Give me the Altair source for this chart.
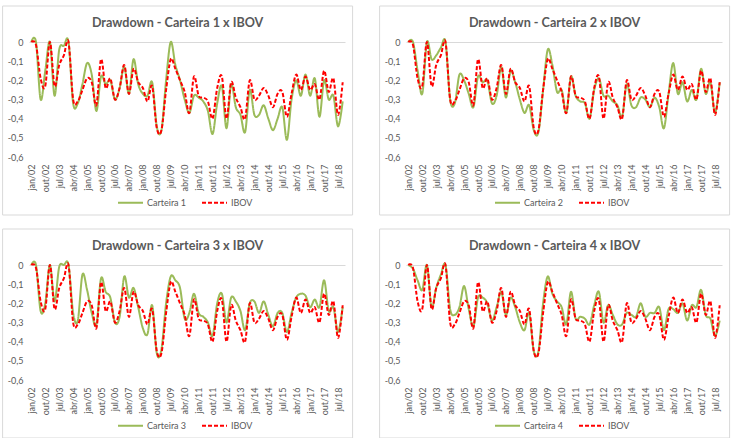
import altair as alt
import pandas as pd

meses = ["jan", "abr", "jul", "out"]
anos = list(range(2002, 2019))
trimestres = [f"{m}/{str(a)[2:]}" for a in anos for m in meses]
rotulos_x = trimestres[::3]
y_ticks = [0, -0.1, -0.2, -0.3, -0.4, -0.5, -0.6]

ibov = [0, -0.015, -0.19, -0.23, 0, -0.23, -0.12, -0.07, 0, -0.3,
        -0.31, -0.25, -0.19, -0.21, -0.33, -0.09, -0.24, -0.19, -0.3, -0.24,
        -0.12, -0.27, -0.14, -0.21, -0.24, -0.31, -0.23, -0.45, -0.46, -0.25,
        -0.09, -0.14, -0.2, -0.26, -0.37, -0.18, -0.28, -0.29, -0.31, -0.4,
        -0.24, -0.18, -0.4, -0.21, -0.29, -0.34, -0.4, -0.2, -0.3, -0.28,
        -0.24, -0.28, -0.34, -0.27, -0.26, -0.39, -0.27, -0.17, -0.25, -0.18,
        -0.25, -0.22, -0.3, -0.15, -0.26, -0.19, -0.38, -0.21]

carteira1 = [0, 0, -0.3, -0.15, 0, -0.28, -0.04, -0.02, 0, -0.32,
             -0.32, -0.22, -0.11, -0.17, -0.36, -0.18, -0.22, -0.2, -0.3, -0.24,
             -0.13, -0.27, -0.09, -0.22, -0.27, -0.28, -0.21, -0.44, -0.46, -0.2,
             0, -0.12, -0.2, -0.3, -0.37, -0.28, -0.29, -0.31, -0.36, -0.48,
             -0.32, -0.23, -0.45, -0.22, -0.34, -0.38, -0.47, -0.25, -0.38, -0.38,
             -0.33, -0.4, -0.46, -0.4, -0.34, -0.51, -0.3, -0.2, -0.28, -0.17,
             -0.28, -0.19, -0.39, -0.2, -0.3, -0.28, -0.44, -0.31]

carteira2 = [0, 0, -0.15, -0.27, 0, -0.09, -0.07, -0.03, 0, -0.3,
             -0.32, -0.17, -0.2, -0.27, -0.34, -0.18, -0.21, -0.2, -0.32, -0.28,
             -0.13, -0.29, -0.15, -0.21, -0.3, -0.37, -0.33, -0.46, -0.47, -0.25,
             -0.04, -0.12, -0.26, -0.25, -0.37, -0.18, -0.28, -0.31, -0.32, -0.4,
             -0.25, -0.19, -0.28, -0.28, -0.31, -0.33, -0.39, -0.22, -0.33, -0.34,
             -0.29, -0.3, -0.34, -0.29, -0.34, -0.45, -0.27, -0.11, -0.27, -0.21,
             -0.31, -0.25, -0.3, -0.14, -0.27, -0.21, -0.37, -0.21]

carteira3 = [0, 0, -0.24, -0.2, 0, -0.19, -0.01, 0, 0, -0.25,
             -0.29, -0.05, -0.13, -0.25, -0.31, -0.07, -0.14, -0.17, -0.3, -0.27,
             -0.06, -0.17, -0.12, -0.22, -0.33, -0.36, -0.21, -0.46, -0.44, -0.2,
             -0.06, -0.08, -0.12, -0.28, -0.25, -0.15, -0.25, -0.27, -0.3, -0.37,
             -0.2, -0.15, -0.3, -0.17, -0.19, -0.24, -0.34, -0.2, -0.19, -0.25,
             -0.19, -0.26, -0.32, -0.25, -0.25, -0.35, -0.25, -0.17, -0.15, -0.16,
             -0.22, -0.18, -0.22, -0.08, -0.24, -0.22, -0.35, -0.22]

carteira4 = [0, -0.02, -0.08, -0.13, 0, -0.22, -0.12, -0.05, 0, -0.23,
             -0.26, -0.22, -0.11, -0.23, -0.32, -0.17, -0.17, -0.2, -0.29, -0.22,
             -0.14, -0.26, -0.17, -0.22, -0.3, -0.34, -0.25, -0.45, -0.45, -0.2,
             -0.06, -0.15, -0.19, -0.22, -0.31, -0.14, -0.28, -0.27, -0.28, -0.31,
             -0.21, -0.14, -0.3, -0.21, -0.26, -0.31, -0.31, -0.25, -0.26, -0.27,
             -0.2, -0.27, -0.25, -0.25, -0.22, -0.34, -0.23, -0.23, -0.25, -0.2,
             -0.29, -0.21, -0.22, -0.13, -0.26, -0.28, -0.37, -0.29]

carteiras = [("Carteira 1", carteira1), ("Carteira 2", carteira2),
             ("Carteira 3", carteira3), ("Carteira 4", carteira4)]

FONT = "Lato"
GRAY = "#595959"
W, H = 316, 115


def painel(nome, serie):
    n = len(trimestres)
    df = pd.DataFrame({
        "q": trimestres + trimestres,
        "i": list(range(n)) + list(range(n)),
        "v": serie + ibov,
        "s": [nome] * n + ["IBOV"] * n,
    })
    frame = alt.Chart(alt.Data(values=[{"a": 1}])).mark_rect(
        fill="white", fillOpacity=0, stroke="#d9d9d9", strokeWidth=1
    ).encode(x=alt.value(-26.4), x2=alt.value(323.6), y=alt.value(-36), y2=alt.value(173))

    titulo = alt.Chart(alt.Data(values=[{"t": f"Drawdown - {nome} x IBOV"}])).mark_text(
        font=FONT, fontSize=12.6, fontWeight="bold", color=GRAY, align="center", baseline="middle"
    ).encode(x=alt.value(148.6), y=alt.value(-19.5), text="t:N")

    leg = dict(orient="none", legendX=88, legendY=147, direction="horizontal", title=None,
               symbolType="stroke", symbolSize=625, symbolStrokeWidth=2,
               labelFont=FONT, labelFontSize=9, labelColor=GRAY,
               columnPadding=11, labelOffset=3, padding=0)

    linhas = alt.Chart(df).mark_line(interpolate="cardinal", strokeWidth=2, clip=False).encode(
        x=alt.X("q:O", sort=trimestres, scale=alt.Scale(type="point", padding=0.5),
                axis=alt.Axis(values=rotulos_x, labelAngle=-90, labelFontSize=9, labelFont=FONT,
                              labelColor=GRAY, ticks=False, tickSize=0, domain=False, grid=False,
                              title=None, labelPadding=7, labelOverlap=False)),
        y=alt.Y("v:Q", scale=alt.Scale(domain=[-0.6, 0], nice=False, zero=False),
                axis=alt.Axis(values=y_ticks,
                              labelExpr="datum.value == 0 ? '0' : '-0,' + round(-datum.value * 10)",
                              ticks=False, tickSize=0, domain=False, grid=True, gridColor="#d9d9d9",
                              gridOpacity={"condition": {"test": "datum.value == 0", "value": 1}, "value": 0},
                              labelFontSize=9, labelFont=FONT, labelColor=GRAY, labelPadding=6,
                              title=None)),
        color=alt.Color("s:N", scale=alt.Scale(domain=[nome, "IBOV"], range=["#9BBB59", "#FF0000"]),
                        legend=alt.Legend(**leg)),
        strokeDash=alt.StrokeDash("s:N", scale=alt.Scale(domain=[nome, "IBOV"], range=[[1, 0], [4, 2]]),
                                  legend=alt.Legend(**leg)),
        order=alt.Order("i:Q"),
    )
    return alt.layer(frame, linhas, titulo).properties(width=W, height=H)


p = [painel(n, s) for n, s in carteiras]
top = alt.hconcat(p[0], p[1], spacing=25).resolve_scale(color="independent", strokeDash="independent")
bot = alt.hconcat(p[2], p[3], spacing=25).resolve_scale(color="independent", strokeDash="independent")
chart = alt.vconcat(top, bot, spacing=12).resolve_scale(
    color="independent", strokeDash="independent"
).properties(
    padding={"left": 2, "top": 5, "right": 0, "bottom": 0},
    background="white",
).configure_view(stroke=None)

chart.save("out.html", embed_options={"renderer": "svg", "actions": False})
